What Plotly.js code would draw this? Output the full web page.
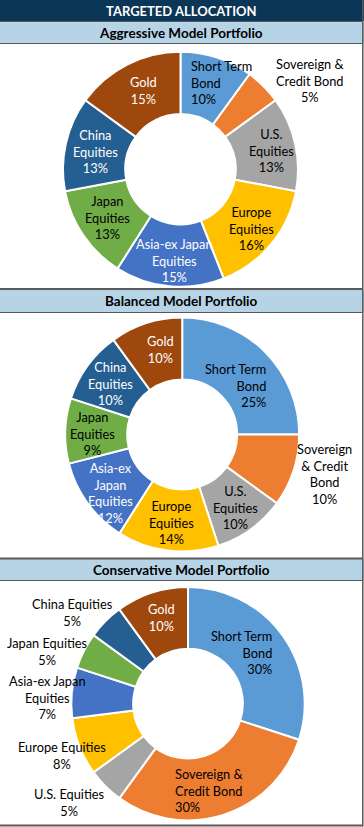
<!DOCTYPE html>
<html>
<head>
<meta charset="utf-8">
<script src="https://cdn.plot.ly/plotly-3.0.1.min.js"></script>
<style>
html,body{margin:0;padding:0;background:#fff;}
#chart{width:364px;height:827px;}
</style>
</head>
<body>
<div id="chart"></div>
<script>
// ---- DATA ----
var categories = ["Short Term Bond", "Sovereign & Credit Bond", "U.S. Equities", "Europe Equities",
                  "Asia-ex Japan Equities", "Japan Equities", "China Equities", "Gold"];
var aggressiveValues   = [10, 5, 13, 16, 15, 13, 13, 15];
var balancedValues     = [25, 10, 10, 14, 12, 9, 10, 10];
var conservativeValues = [30, 30, 5, 8, 7, 5, 5, 10];

var aggressiveLabels = ["Short Term<br>Bond", "Sovereign &<br>Credit Bond", "U.S.<br>Equities", "Europe<br>Equities",
                        "Asia-ex Japan<br>Equities", "Japan<br>Equities", "China<br>Equities", "Gold"];
var balancedLabels   = ["Short Term<br>Bond", "Sovereign<br>& Credit<br>Bond", "U.S.<br>Equities", "Europe<br>Equities",
                        "Asia-ex<br>Japan<br>Equities", "Japan<br>Equities", "China<br>Equities", "Gold"];
var conservativeLabels = ["Short Term<br>Bond", "Sovereign &<br>Credit Bond", "U.S. Equities", "Europe Equities",
                          "Asia-ex Japan<br>Equities", "Japan Equities", "China Equities", "Gold"];

var panelTitles = ["Aggressive Model Portfolio", "Balanced Model Portfolio", "Conservative Model Portfolio"];
var mainTitle = "TARGETED ALLOCATION";

// ---- STYLE / LAYOUT ----
var W = 364, H = 827;
var sliceColors = ["#5b9bd5", "#ed7d31", "#a5a5a5", "#ffc000", "#4472c4", "#70ad47", "#255e91", "#9e480e"];
var FONT = "Lato, 'Open Sans', sans-serif";
function px(x){ return x / W; }
function py(y){ return 1 - y / H; }

// donut boxes in pixels [left, right, top, bottom]
var boxes = [[63, 298, 51.8, 286.8], [65.2, 299.2, 317.5, 551.5], [71.3, 304.7, 587, 820.4]];
// label placement in pixels: [x, y, xanchor, color]
var labelPos = [
  [[189,82,"left","#000"],[310,80,"center","#000"],[271.5,150,"center","#000"],[251,228,"center","#000"],
   [174,260,"center","#fff"],[107,218,"center","#000"],[95,151,"center","#fff"],[143,90.5,"center","#fff"]],
  [[268,385.7,"right","#000"],[324,473.5,"center","#000"],[235.5,508,"center","#000"],[171,522,"center","#000"],
   [110,493,"center","#fff"],[92.5,434,"center","#000"],[110,383,"center","#fff"],[160,349.3,"center","#fff"]],
  [[274,652,"right","#000"],[173,790.3,"left","#000"],[69,802.7,"center","#000"],[62,755.3,"center","#000"],
   [47,697.5,"center","#000"],[47,651,"center","#000"],[72,612,"center","#000"],[161,617.3,"center","#fff"]]
];

var allValues = [aggressiveValues, balancedValues, conservativeValues];
var allLabels = [aggressiveLabels, balancedLabels, conservativeLabels];

var traces = [];
var annotations = [];
for (var k = 0; k < 3; k++) {
  var b = boxes[k];
  traces.push({
    type: "pie",
    labels: categories,
    values: allValues[k],
    sort: false,
    direction: "clockwise",
    rotation: 0,
    hole: 0.47,
    textinfo: "none",
    hoverinfo: "none",
    automargin: false,
    marker: {colors: sliceColors, line: {color: "#ffffff", width: 2}},
    domain: {x: [px(b[0]), px(b[1])], y: [py(b[3]), py(b[2])]}
  });
  for (var i = 0; i < categories.length; i++) {
    var p = labelPos[k][i];
    annotations.push({
      xref: "paper", yref: "paper",
      x: px(p[0]), y: py(p[1]),
      xanchor: p[2], yanchor: "middle", align: p[2] === "center" ? "center" : p[2],
      showarrow: false,
      text: allLabels[k][i] + "<br>" + allValues[k][i] + "%",
      font: {family: FONT, size: 12.8, color: p[3]}
    });
  }
}

// titles
annotations.push({xref:"paper", yref:"paper", x: px(181), y: py(11), xanchor:"center", yanchor:"middle",
  showarrow:false, text:"<b>" + mainTitle + "</b>", font:{family:FONT, size:13, color:"#ffffff"}});
var titleY = [33, 301.5, 570];
for (var t = 0; t < 3; t++) {
  annotations.push({xref:"paper", yref:"paper", x: px(181), y: py(titleY[t]), xanchor:"center", yanchor:"middle",
    showarrow:false, text:"<b>" + panelTitles[t] + "</b>", font:{family:FONT, size:13.5, color:"#000000"}});
}

var NAVY = "#0b3656", LIGHT = "#b7d4e6", GRAY = "#595959";
function rect(x0,y0,x1,y1,fill){ return {type:"rect", xref:"paper", yref:"paper", x0:px(x0), x1:px(x1), y0:py(y1), y1:py(y0), fillcolor:fill, line:{width:0}, layer:"below"}; }
function hline(y, w){ return {type:"line", xref:"paper", yref:"paper", x0:0, x1:px(363), y0:py(y), y1:py(y), line:{color:GRAY, width:w}}; }
var shapes = [
  rect(0,0,364,21,NAVY),
  rect(0,22,364,43,LIGHT),
  rect(0,290,364,312,LIGHT),
  rect(0,559,364,580,LIGHT),
  hline(21.5,1), hline(43.5,1),
  hline(289,2), hline(312.5,1),
  hline(558.5,2), hline(580.5,1),
  hline(825.5,2),
  {type:"line", xref:"paper", yref:"paper", x0:px(362.8), x1:px(362.8), y0:py(826.5), y1:1, line:{color:GRAY, width:1.5}}
];

var layout = {
  width: W, height: H,
  margin: {l:0, r:0, t:0, b:0},
  paper_bgcolor: "#ffffff",
  showlegend: false,
  shapes: shapes,
  annotations: annotations
};
Plotly.newPlot("chart", traces, layout, {staticPlot: true, displayModeBar: false});
</script>
</body>
</html>
